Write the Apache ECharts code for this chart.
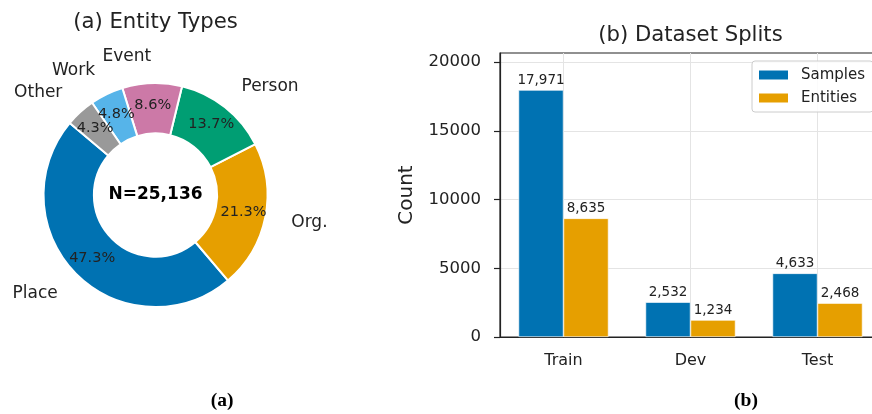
<!DOCTYPE html>
<html><head><meta charset="utf-8">
<script src="https://cdn.jsdelivr.net/npm/echarts@6/dist/echarts.min.js"></script>
<style>html,body{margin:0;padding:0;background:#fff}#c{width:872px;height:414px}</style>
</head><body><div id="c"></div>
<script>
// ---- data ----
const entityTypes = ['Place', 'Org.', 'Person', 'Event', 'Work', 'Other'];
const entityPercents = [47.3, 21.3, 13.7, 8.6, 4.8, 4.3];
const entityTotal = 25136;
const splits = ['Train', 'Dev', 'Test'];
const sampleCounts = [17971, 2532, 4633];
const entityCounts = [8635, 1234, 2468];
const yTicks = [0, 5000, 10000, 15000, 20000];
const yMax = 20667;
const seriesNames = ['Samples', 'Entities'];

// ---- styles ----
const pieColors = ['#0072B2', '#E69F00', '#009E73', '#CC79A7', '#56B4E9', '#999999'];
const barColors = ['#0072B2', '#E69F00'];
const FONT = 'DejaVu Sans';
const ink = '#222';
const gridCol = '#e4e4e4';

const chart = echarts.init(document.getElementById('c'), null, {renderer: 'canvas'});
const pieCenter = [155.5, 195];
const pieRadius = [61.6, 112];
// inside % labels split over two series so that neighbouring labels are never culled
const pieDataA = entityTypes.map((n, i) => ({name: n, value: entityPercents[i],
  itemStyle: {color: pieColors[i]}, label: {show: i % 2 === 0}}));
const pieDataB = entityTypes.map((n, i) => ({name: n, value: entityPercents[i],
  label: {show: i % 2 === 1}}));
const pieDataNames = entityTypes.map((n, i) => ({name: n, value: entityPercents[i]}));

const option = {
  animation: false,
  textStyle: {fontFamily: FONT},
  title: [
    {text: '(a) Entity Types', left: 155.5, top: 22, textAlign: 'center', textVerticalAlign: 'middle', padding: 0,
     textStyle: {fontFamily: FONT, fontSize: 21.2, fontWeight: 'normal', color: ink}},
    {text: '(b) Dataset Splits', left: 690.5, top: 35, textAlign: 'center', textVerticalAlign: 'middle', padding: 0,
     textStyle: {fontFamily: FONT, fontSize: 21.2, fontWeight: 'normal', color: ink}},
    {text: 'N=' + entityTotal.toLocaleString('en-US'), left: 155.5, top: 195, textAlign: 'center', textVerticalAlign: 'middle', padding: 0,
     textStyle: {fontFamily: FONT, fontSize: 17, fontWeight: 'bold', color: '#000'}},
    {text: '(a)', left: 222, top: 401, textAlign: 'center', textVerticalAlign: 'middle', padding: 0,
     textStyle: {fontFamily: 'Liberation Serif', fontSize: 19.5, fontWeight: 'bold', color: '#000'}},
    {text: '(b)', left: 746, top: 401, textAlign: 'center', textVerticalAlign: 'middle', padding: 0,
     textStyle: {fontFamily: 'Liberation Serif', fontSize: 19.5, fontWeight: 'bold', color: '#000'}}
  ],
  legend: {
    orient: 'vertical', left: 752, top: 61, itemWidth: 31, itemHeight: 11, itemGap: 5,
    padding: [5, 8, 5, 5], backgroundColor: 'rgba(255,255,255,0.85)', borderColor: '#cccccc', borderWidth: 1, borderRadius: 3,
    icon: 'rect', data: seriesNames,
    textStyle: {fontFamily: FONT, fontSize: 15, color: ink, lineHeight: 18, padding: [0, 0, 0, 7]}
  },
  grid: {left: 500, right: -9, top: 53, bottom: 77, outerBoundsMode: 'none', containLabel: false,
         show: true, borderColor: ink, borderWidth: 1.2, backgroundColor: 'transparent'},
  xAxis: {
    type: 'category', data: splits,
    axisLine: {lineStyle: {color: ink, width: 1.2}},
    axisTick: {alignWithLabel: true, length: 6, lineStyle: {color: ink, width: 1.2}},
    axisLabel: {fontFamily: FONT, fontSize: 16, color: ink, margin: 16},
    splitLine: {show: true, alignWithLabel: true, lineStyle: {color: gridCol, width: 1}}
  },
  yAxis: {
    type: 'value', min: 0, max: yMax, interval: 5000,
    name: 'Count', nameLocation: 'middle', nameGap: 83,
    nameTextStyle: {fontFamily: FONT, fontSize: 20, color: ink},
    axisLine: {show: true, lineStyle: {color: ink, width: 1.2}},
    axisTick: {show: true, length: 6, customValues: yTicks, lineStyle: {color: ink, width: 1.2}},
    axisLabel: {fontFamily: FONT, fontSize: 16.5, color: ink, margin: 19, customValues: yTicks,
                formatter: v => String(v)},
    splitLine: {show: true, lineStyle: {color: gridCol, width: 1}}
  },
  series: [
    {
      type: 'pie', center: pieCenter, radius: pieRadius, startAngle: 140, clockwise: false,
      avoidLabelOverlap: false, silent: true, labelLayout: {hideOverlap: false},
      itemStyle: {borderColor: '#fff', borderWidth: 2},
      label: {position: 'inside', fontFamily: FONT, fontSize: 14.5, color: ink,
              formatter: p => p.value.toFixed(1) + '%'},
      labelLine: {show: false},
      data: pieDataA
    },
    {
      type: 'pie', center: pieCenter, radius: pieRadius, startAngle: 140, clockwise: false,
      avoidLabelOverlap: false, silent: true, labelLayout: {hideOverlap: false},
      itemStyle: {color: 'rgba(0,0,0,0)', borderWidth: 0},
      label: {position: 'inside', fontFamily: FONT, fontSize: 14.5, color: ink,
              formatter: p => p.value.toFixed(1) + '%'},
      labelLine: {show: false},
      data: pieDataB
    },
    {
      type: 'pie', center: pieCenter, radius: pieRadius, startAngle: 140, clockwise: false,
      avoidLabelOverlap: false, silent: true, labelLayout: {hideOverlap: false},
      itemStyle: {color: 'rgba(0,0,0,0)', borderWidth: 0},
      label: {show: true, position: 'outside', fontFamily: FONT, fontSize: 17, color: ink,
              formatter: '{b}', distanceToLabelLine: 0},
      labelLine: {show: false, length: 26.5, length2: 0},
      data: pieDataNames
    },
    {
      type: 'bar', name: seriesNames[0], data: sampleCounts, barWidth: 45, barGap: '0%',
      itemStyle: {color: barColors[0], borderColor: '#fff', borderWidth: 0.6},
      label: {show: true, position: 'top', distance: 3, fontFamily: FONT, fontSize: 13.5, color: ink,
              formatter: p => p.value.toLocaleString('en-US')}
    },
    {
      type: 'bar', name: seriesNames[1], data: entityCounts, barWidth: 45, barGap: '0%',
      itemStyle: {color: barColors[1], borderColor: '#fff', borderWidth: 0.6},
      label: {show: true, position: 'top', distance: 3, fontFamily: FONT, fontSize: 13.5, color: ink,
              formatter: p => p.value.toLocaleString('en-US')}
    }
  ]
};
chart.setOption(option);
</script>
</body></html>
